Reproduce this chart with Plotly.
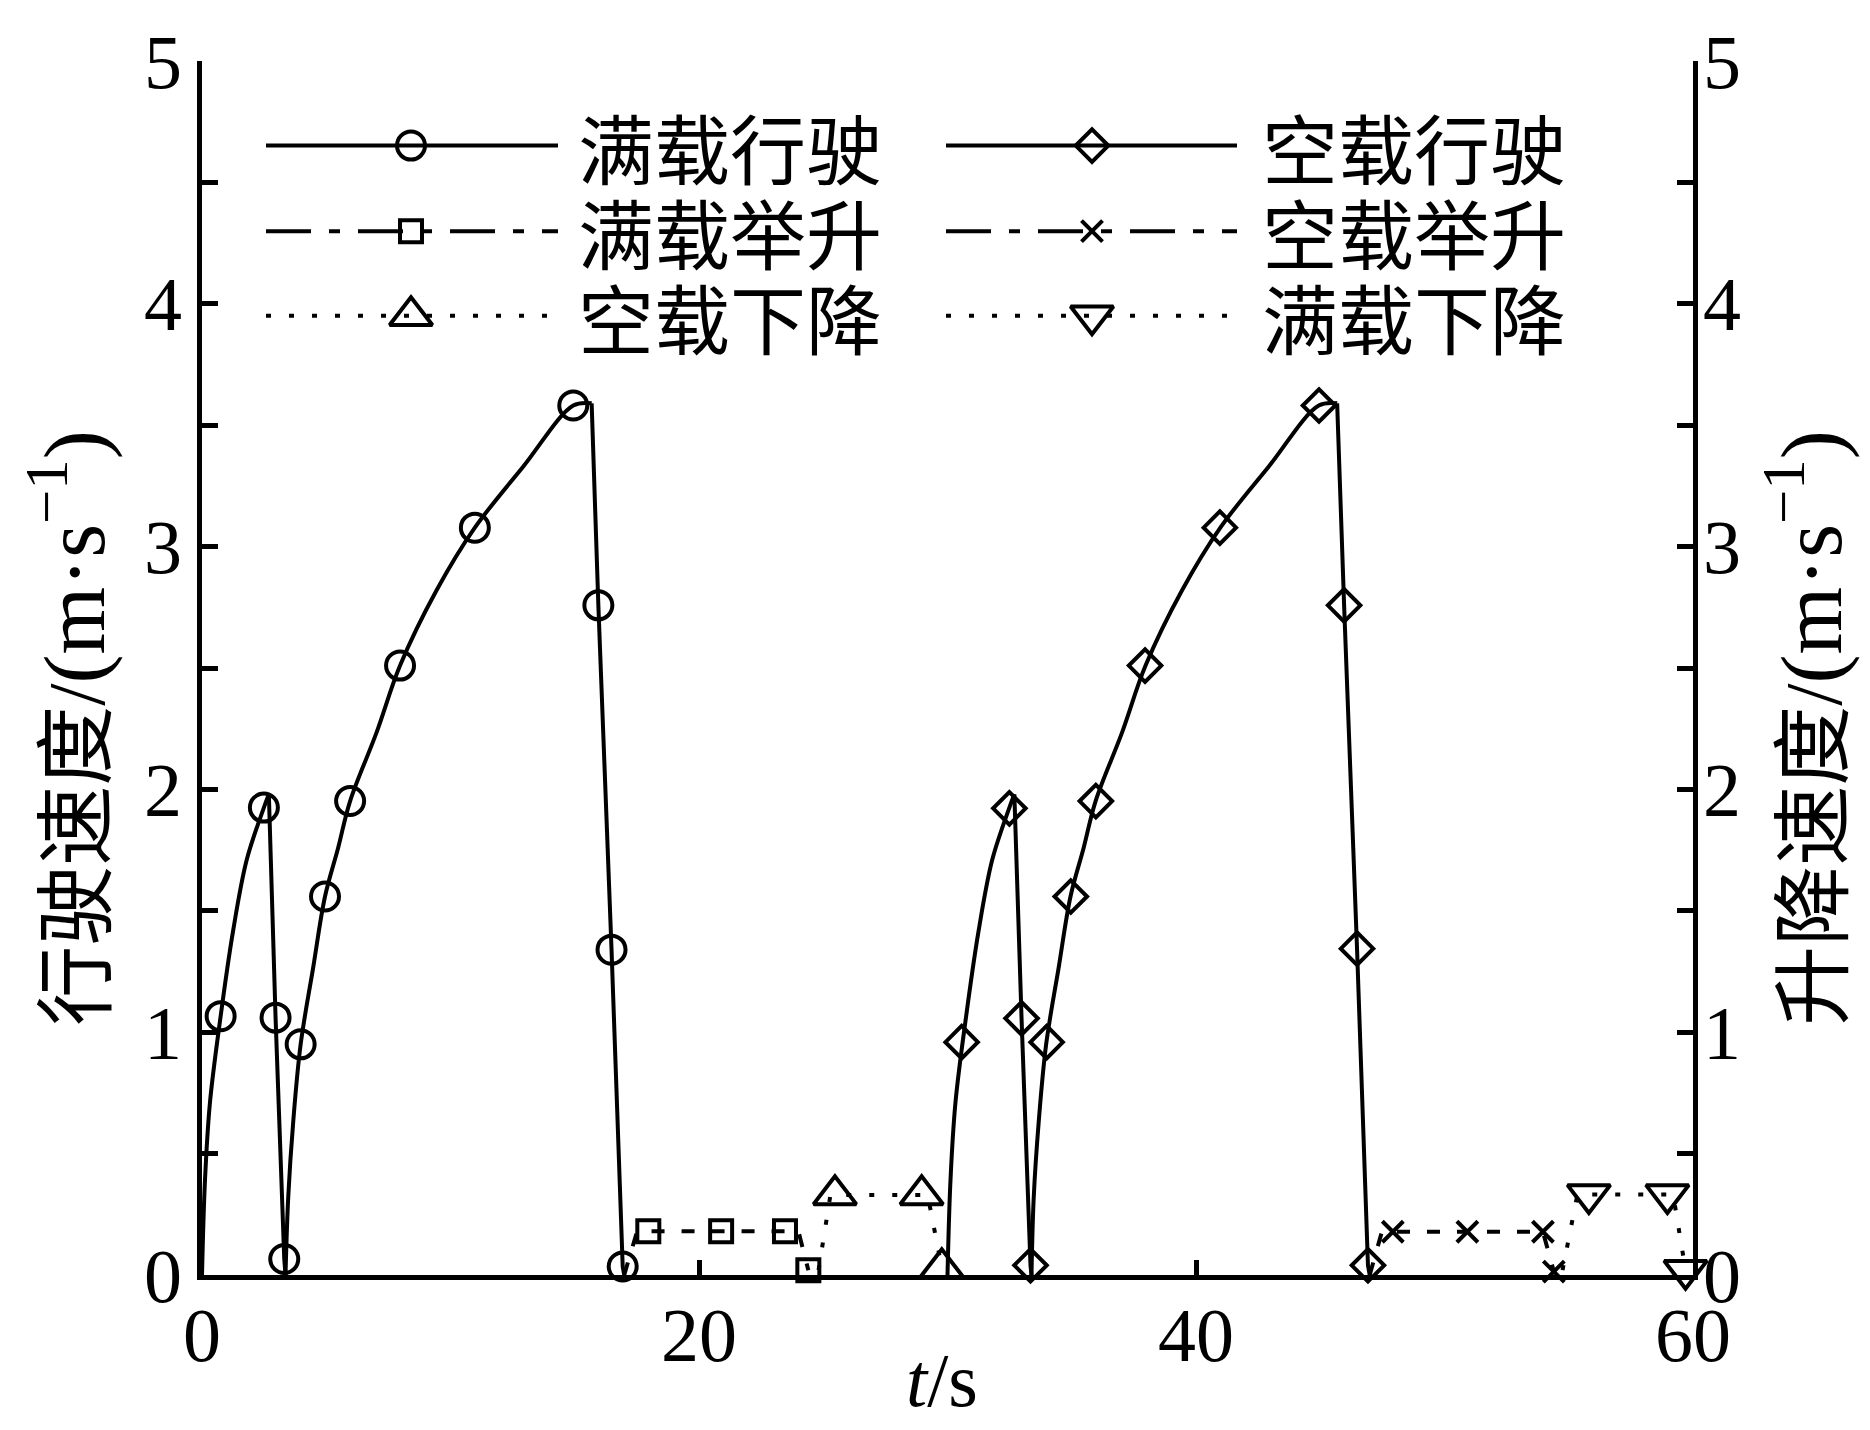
import plotly.graph_objects as go

# ---------------- data (t in s, v in m/s) ----------------
# 满载行驶 (full-load travel) - left axis
full_run_rise1_t = [0, 0.12, 0.32, 0.75, 1.24, 1.80, 2.49, 2.69]
full_run_rise1_v = [0, 0.39, 0.71, 1.066, 1.41, 1.71, 1.925, 1.98]
full_run_fall1_t = [2.69, 2.96, 3.31, 3.36]
full_run_fall1_v = [1.98, 1.06, 0.066, 0]
full_run_rise2_t = [3.36, 3.47, 3.67, 3.97, 4.48, 4.95, 5.48, 5.96, 7.03, 7.97, 9.44, 10.98, 12.93, 14.94, 15.68]
full_run_rise2_v = [0, 0.32, 0.63, 0.95, 1.27, 1.559, 1.76, 1.952, 2.236, 2.51, 2.82, 3.078, 3.33, 3.581, 3.59]
full_run_fall2_t = [15.68, 15.95, 16.48, 16.93, 16.99]
full_run_fall2_v = [3.59, 2.758, 1.34, 0.035, 0]
full_run_mk_t = [0.75, 2.49, 2.96, 3.31, 3.97, 4.95, 5.96, 7.97, 10.98, 14.94, 15.95, 16.48, 16.93]
full_run_mk_v = [1.066, 1.925, 1.06, 0.066, 0.95, 1.559, 1.952, 2.51, 3.078, 3.581, 2.758, 1.34, 0.035]

# 空载行驶 (empty travel) - left axis
empty_run_rise1_t = [30.0, 30.12, 30.32, 30.75, 31.24, 31.80, 32.49, 32.69]
empty_run_rise1_v = [0, 0.39, 0.71, 1.066, 1.41, 1.71, 1.925, 1.98]
empty_run_fall1_t = [32.69, 32.98, 33.34, 33.38]
empty_run_fall1_v = [1.98, 1.057, 0.04, 0]
empty_run_rise2_t = [33.38, 33.47, 33.67, 33.97, 34.48, 34.95, 35.48, 35.96, 37.03, 37.97, 39.44, 40.98, 42.93, 44.94, 45.68]
empty_run_rise2_v = [0, 0.32, 0.63, 0.95, 1.27, 1.559, 1.76, 1.952, 2.236, 2.51, 2.82, 3.078, 3.33, 3.581, 3.59]
empty_run_fall2_t = [45.68, 45.96, 46.48, 46.92, 46.99]
empty_run_fall2_v = [3.59, 2.758, 1.344, 0.04, 0]
empty_run_mk_t = [30.57, 32.49, 32.98, 33.34, 33.99, 34.96, 35.97, 37.95, 40.96, 44.95, 45.96, 46.48, 46.92]
empty_run_mk_v = [0.959, 1.922, 1.057, 0.04, 0.959, 1.559, 1.952, 2.51, 3.078, 3.581, 2.758, 1.344, 0.04]

# 满载举升 (full-load lift) - right axis
full_lift_t = [16.99, 17.51, 17.96, 20.89, 23.46, 24.0, 24.40]
full_lift_v = [0, 0.18, 0.18, 0.18, 0.18, 0.18, 0.02]
full_lift_mk_t = [17.96, 20.89, 23.46, 24.40]
full_lift_mk_v = [0.18, 0.18, 0.18, 0.02]

# 空载下降 (empty descent) - right axis
empty_down_t = [24.81, 25.29, 25.47, 28.96, 29.20, 29.77]
empty_down_v = [0.02, 0.33, 0.33, 0.33, 0.33, 0.03]
empty_down_mk_t = [25.47, 28.96, 29.77]
empty_down_mk_v = [0.33, 0.33, 0.03]

# 空载举升 (empty lift) - right axis
empty_lift_t = [46.99, 47.48, 47.92, 50.92, 53.96, 54.40]
empty_lift_v = [0, 0.178, 0.178, 0.178, 0.178, 0.014]
empty_lift_mk_t = [47.92, 50.92, 53.96, 54.40]
empty_lift_mk_v = [0.178, 0.178, 0.178, 0.014]

# 满载下降 (full-load descent) - right axis
full_down_t = [54.75, 55.35, 55.81, 58.97, 59.20, 59.70]
full_down_v = [0.02, 0.332, 0.332, 0.332, 0.332, 0.02]
full_down_mk_t = [55.81, 58.97, 59.70]
full_down_mk_v = [0.332, 0.332, 0.02]

x_ticks = [0, 20, 40, 60]
y_ticks = [0, 1, 2, 3, 4, 5]
legend_names = ["满载行驶", "空载行驶", "满载举升", "空载举升", "空载下降", "满载下降"]
unit_html = "<span style='font-size:87px'>(m·s<sup>−1</sup>)</span>"
y_title_left = "行驶速度/" + unit_html
y_title_right = "升降速度/" + unit_html
x_title = "<i>t</i>/s"

# ---------------- layout geometry (page pixels) ----------------
BODY = 8                      # default page body margin around the figure
W, H = 1870 - 2 * BODY, 1430 - 2 * BODY
PX_L, PX_R, PX_T, PX_B = 202, 1693, 55, 1275   # plot area in page pixels
L = PX_L - BODY
T = PX_T - BODY
R = (W + BODY) - PX_R
B = (H + BODY) - PX_B

FONT = "Liberation Serif, Noto Sans CJK SC, serif"
CJK = "Noto Sans CJK SC, Liberation Serif"
FS = 76
FS_TITLE = 80
LW = 4
MLW = 4
BLACK = "black"

DASH_PLOT = "13px,17px"
DASH_LEG = "45px,18px,11px,18px"
DOT = "5px,18px"


def px_paper(X, Y):
    return (X - PX_L) / (PX_R - PX_L), (PX_B - Y) / (PX_B - PX_T)


fig = go.Figure()


def line(t, v, yaxis="y", dash="solid", shape="linear"):
    fig.add_trace(go.Scatter(x=t, y=v, mode="lines", yaxis=yaxis, showlegend=False,
                             line=dict(color=BLACK, width=LW, dash=dash, shape=shape,
                                       smoothing=1.0), hoverinfo="skip"))


def markers(t, v, symbol, size, yaxis="y"):
    fig.add_trace(go.Scatter(x=t, y=v, mode="markers", yaxis=yaxis, showlegend=False,
                             cliponaxis=False,
                             marker=dict(symbol=symbol, size=size, color=BLACK,
                                         line=dict(color=BLACK, width=MLW)),
                             hoverinfo="skip"))


SYM = {
    "circle": ("circle-open", 28),
    "diamond": ("diamond-open", 25),
    "square": ("square-open", 22),
    "x": ("x-thin", 21),
    "tri_up": ("triangle-up-open", 37),
    "tri_down": ("triangle-down-open", 37),
}

# full-load travel
line(full_run_rise1_t, full_run_rise1_v, shape="spline")
line(full_run_fall1_t, full_run_fall1_v)
line(full_run_rise2_t, full_run_rise2_v, shape="spline")
line(full_run_fall2_t, full_run_fall2_v)
markers(full_run_mk_t, full_run_mk_v, *SYM["circle"])

# empty travel
line(empty_run_rise1_t, empty_run_rise1_v, shape="spline")
line(empty_run_fall1_t, empty_run_fall1_v)
line(empty_run_rise2_t, empty_run_rise2_v, shape="spline")
line(empty_run_fall2_t, empty_run_fall2_v)
markers(empty_run_mk_t, empty_run_mk_v, *SYM["diamond"])

# lifts / descents on the right axis
line(full_lift_t, full_lift_v, yaxis="y2", dash=DASH_PLOT)
markers(full_lift_mk_t, full_lift_mk_v, *SYM["square"], yaxis="y2")
line(empty_down_t, empty_down_v, yaxis="y2", dash=DOT)
markers(empty_down_mk_t, empty_down_mk_v, *SYM["tri_up"], yaxis="y2")
line(empty_lift_t, empty_lift_v, yaxis="y2", dash=DASH_PLOT)
markers(empty_lift_mk_t, empty_lift_mk_v, *SYM["x"], yaxis="y2")
line(full_down_t, full_down_v, yaxis="y2", dash=DOT)
markers(full_down_mk_t, full_down_mk_v, *SYM["tri_down"], yaxis="y2")

# ---------------- custom legend (pixel overlay axes) ----------------
leg_rows = [140, 226, 311]
leg_cols = [(266, 558, 411, 576), (946, 1237, 1092, 1260)]
leg_items = [
    (0, 0, "solid", "circle"),
    (0, 1, "solid", "diamond"),
    (1, 0, DASH_LEG, "square"),
    (1, 1, DASH_LEG, "x"),
    (2, 0, DOT, "tri_up"),
    (2, 1, DOT, "tri_down"),
]
for name, (r, c, dash, key) in zip(legend_names, leg_items):
    x0, x1, xm, xt = leg_cols[c]
    y = leg_rows[r]
    sym, sz = SYM[key]
    fig.add_trace(go.Scatter(x=[x0, x1], y=[y, y], mode="lines", xaxis="x3", yaxis="y3",
                             showlegend=False, hoverinfo="skip",
                             line=dict(color=BLACK, width=LW, dash=dash)))
    fig.add_trace(go.Scatter(x=[xm], y=[y], mode="markers", xaxis="x3", yaxis="y3",
                             showlegend=False, hoverinfo="skip", cliponaxis=False,
                             marker=dict(symbol=sym, size=sz, color=BLACK,
                                         line=dict(color=BLACK, width=MLW))))
    fig.add_annotation(x=xt, y=y, xref="x3", yref="y3", text=name, showarrow=False,
                       xanchor="left", yanchor="middle",
                       font=dict(family=CJK, size=FS, color=BLACK))

# axis titles (paper coordinates)
for text, (X, Y), ang, fs in [(y_title_left, (68, 725), -90, FS_TITLE),
                              (y_title_right, (1805, 725), -90, FS_TITLE),
                              (x_title, (942, 1381), 0, FS)]:
    xp, yp = px_paper(X, Y)
    fig.add_annotation(x=xp, y=yp, xref="paper", yref="paper", text=text,
                       textangle=ang, showarrow=False, xanchor="center", yanchor="middle",
                       font=dict(family=FONT, size=fs, color=BLACK))

axis_common = dict(showgrid=False, zeroline=False, showline=True, linecolor=BLACK,
                   linewidth=4.5, ticks="inside", tickcolor=BLACK, tickwidth=4.5,
                   tickfont=dict(family=FONT, size=FS, color=BLACK))

minor_y = dict(dtick=0.5, ticks="inside", ticklen=16, tickwidth=4.5,
               tickcolor=BLACK, showgrid=False)

fig.update_layout(
    width=W, height=H,
    margin=dict(l=L, r=R, t=T, b=B, pad=0),
    paper_bgcolor="white", plot_bgcolor="white",
    showlegend=False,
    font=dict(family=FONT, size=FS, color=BLACK),
    xaxis=dict(range=[0, 60], tickvals=x_ticks, ticklen=15, ticklabelstandoff=-10,
               **axis_common),
    yaxis=dict(range=[0, 5], tickvals=y_ticks, ticklen=16, ticklabelstandoff=0,
               minor=minor_y, **axis_common),
    yaxis2=dict(range=[0, 5], tickvals=y_ticks, ticklen=16, ticklabelstandoff=-10,
                overlaying="y", side="right", anchor="x",
                minor=minor_y, **axis_common),
    xaxis3=dict(overlaying="x", range=[PX_L, PX_R], visible=False, anchor="y3"),
    yaxis3=dict(overlaying="y", range=[PX_B, PX_T], visible=False, anchor="x3"),
)

fig.write_html("out.html")
